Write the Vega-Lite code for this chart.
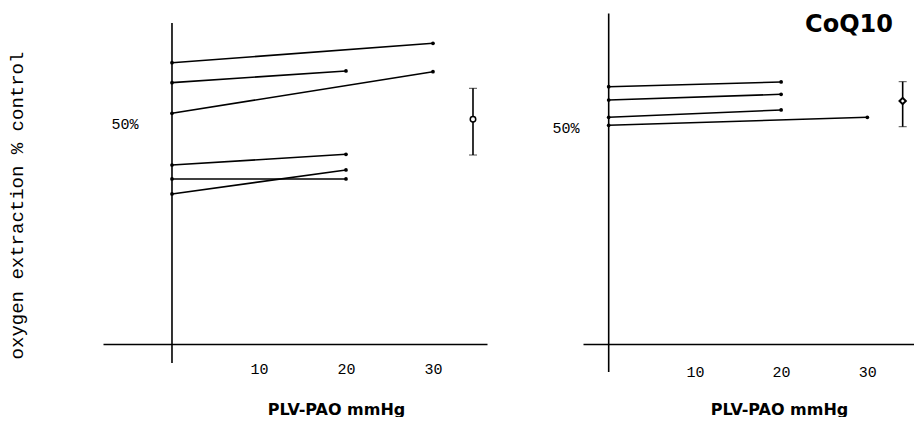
{
  "$schema": "https://vega.github.io/schema/vega-lite/v6.json",
  "background": "white",
  "padding": {"left": 7, "top": 12, "right": 0, "bottom": 0},
  "spacing": 64,
  "config": {"view": {"stroke": null}},
  "datasets": {
    "left": [
      {"series": "L1", "x": 0, "y": 63.93}, {"series": "L1", "x": 30, "y": 68.34},
      {"series": "L2", "x": 0, "y": 59.39}, {"series": "L2", "x": 20, "y": 62.05},
      {"series": "L3", "x": 0, "y": 52.43}, {"series": "L3", "x": 30, "y": 61.89},
      {"series": "L4", "x": 0, "y": 40.68}, {"series": "L4", "x": 20, "y": 43.11},
      {"series": "L5", "x": 0, "y": 37.5}, {"series": "L5", "x": 20, "y": 37.5},
      {"series": "L6", "x": 0, "y": 34.09}, {"series": "L6", "x": 20, "y": 39.55}
    ],
    "leftErr": [{"x": 34.6, "mean": 51.07, "lo": 42.95, "hi": 58.11}],
    "right": [
      {"series": "R1", "x": 0, "y": 59.56}, {"series": "R1", "x": 20, "y": 60.65},
      {"series": "R2", "x": 0, "y": 56.48}, {"series": "R2", "x": 20, "y": 57.8},
      {"series": "R3", "x": 0, "y": 52.48}, {"series": "R3", "x": 20, "y": 54.17},
      {"series": "R4", "x": 0, "y": 50.63}, {"series": "R4", "x": 30, "y": 52.48}
    ],
    "rightErr": [{"x": 34.1, "mean": 56.25, "lo": 50.3, "hi": 60.72}]
  },
  "hconcat": [
    {
      "width": 384,
      "height": 332,
      "layer": [
        {
          "data": {"values": [{}]},
          "mark": {"type": "rule", "color": "black", "strokeWidth": 1.6},
          "encoding": {
            "x": {"datum": 0, "type": "quantitative"},
            "y": {"datum": -4.32, "type": "quantitative", "title": "oxygen extraction % control"},
            "y2": {"datum": 72.95}
          }
        },
        {
          "data": {"name": "left"},
          "mark": {"type": "line", "color": "black", "strokeWidth": 1.6},
          "encoding": {
            "x": {
              "field": "x", "type": "quantitative", "title": "PLV-PAO mmHg",
              "scale": {"domain": [-7.93, 36.21], "nice": false, "zero": false},
              "axis": {
                "values": [10, 20, 30], "ticks": false, "tickSize": 0, "grid": false,
                "domain": true, "domainColor": "black", "domainWidth": 1.5,
                "labelFont": "Liberation Mono", "labelFontSize": 15, "labelColor": "black",
                "labelPadding": 17,
                "titleFont": "DejaVu Sans", "titleFontSize": 16,
                "titleFontWeight": "bold", "titleColor": "black",
                "titleX": 233, "titleY": 70, "titleBaseline": "alphabetic", "titleAlign": "center"
              }
            },
            "y": {
              "field": "y", "type": "quantitative", "title": "oxygen extraction % control",
              "scale": {"domain": [0, 75.45], "nice": false, "zero": false},
              "axis": {
                "values": [50], "labelExpr": "datum.label + '%'", "offset": -69,
                "labelPadding": 34, "ticks": false, "tickSize": 0, "domain": false, "grid": false,
                "labelFont": "Liberation Mono", "labelFontSize": 15, "labelColor": "black",
                "titleFont": "Liberation Mono",
                "titleFontSize": 19, "titleFontWeight": "normal", "titleColor": "black",
                "titleX": -146, "titleY": 193, "titleAngle": 270, "titleBaseline": "bottom", "titleAlign": "center"
              }
            },
            "detail": {"field": "series"}
          }
        },
        {
          "data": {"name": "left"},
          "mark": {"type": "point", "filled": true, "color": "black", "size": 14, "opacity": 1},
          "encoding": {
            "x": {"field": "x", "type": "quantitative", "title": "PLV-PAO mmHg"},
            "y": {"field": "y", "type": "quantitative", "title": "oxygen extraction % control"}
          }
        },
        {
          "data": {"name": "leftErr"},
          "mark": {"type": "errorbar", "color": "black", "ticks": {"size": 8, "strokeWidth": 1.6}, "rule": {"strokeWidth": 1.6}},
          "encoding": {
            "x": {"field": "x", "type": "quantitative", "title": "PLV-PAO mmHg"},
            "y": {"field": "lo", "type": "quantitative", "title": "oxygen extraction % control"},
            "y2": {"field": "hi"}
          }
        },
        {
          "data": {"name": "leftErr"},
          "mark": {"type": "point", "shape": "circle", "fill": "white", "stroke": "black", "strokeWidth": 1.5, "size": 30, "opacity": 1, "fillOpacity": 1},
          "encoding": {
            "x": {"field": "x", "type": "quantitative", "title": "PLV-PAO mmHg"},
            "y": {"field": "mean", "type": "quantitative", "title": "oxygen extraction % control"}
          }
        }
      ]
    },
    {
      "width": 332,
      "height": 332,
      "title": {
        "text": "CoQ10", "anchor": "end", "frame": "group", "font": "DejaVu Sans", "fontSize": 24,
        "fontWeight": "bold", "color": "black", "offset": -19, "dy": 25, "baseline": "alphabetic", "dx": -22
      },
      "layer": [
        {
          "data": {"values": [{}]},
          "mark": {"type": "rule", "color": "black", "strokeWidth": 1.6},
          "encoding": {
            "x": {"datum": 0, "type": "quantitative"},
            "y": {"datum": -6.48, "type": "quantitative", "title": null},
            "y2": {"datum": 76.5}
          }
        },
        {
          "data": {"name": "right"},
          "mark": {"type": "line", "color": "black", "strokeWidth": 1.6},
          "encoding": {
            "x": {
              "field": "x", "type": "quantitative", "title": "PLV-PAO mmHg",
              "scale": {"domain": [-2.98, 35.53], "nice": false, "zero": false},
              "axis": {
                "values": [10, 20, 30], "ticks": false, "tickSize": 0, "grid": false,
                "domain": true, "domainColor": "black", "domainWidth": 1.5,
                "labelFont": "Liberation Mono", "labelFontSize": 15, "labelColor": "black",
                "labelPadding": 20,
                "titleFont": "DejaVu Sans", "titleFontSize": 16,
                "titleFontWeight": "bold", "titleColor": "black",
                "titleX": 196, "titleY": 70, "titleBaseline": "alphabetic", "titleAlign": "center"
              }
            },
            "y": {
              "field": "y", "type": "quantitative", "title": null,
              "scale": {"domain": [0, 76.85], "nice": false, "zero": false},
              "axis": {
                "values": [50], "labelExpr": "datum.label + '%'",
                "labelPadding": 4, "ticks": false, "tickSize": 0, "domain": false, "grid": false,
                "labelFont": "Liberation Mono", "labelFontSize": 15, "labelColor": "black"
              }
            },
            "detail": {"field": "series"}
          }
        },
        {
          "data": {"name": "right"},
          "mark": {"type": "point", "filled": true, "color": "black", "size": 14, "opacity": 1},
          "encoding": {
            "x": {"field": "x", "type": "quantitative", "title": "PLV-PAO mmHg"},
            "y": {"field": "y", "type": "quantitative", "title": null}
          }
        },
        {
          "data": {"name": "rightErr"},
          "mark": {"type": "errorbar", "color": "black", "ticks": {"size": 8, "strokeWidth": 1.6}, "rule": {"strokeWidth": 1.6}},
          "encoding": {
            "x": {"field": "x", "type": "quantitative", "title": "PLV-PAO mmHg"},
            "y": {"field": "lo", "type": "quantitative", "title": null},
            "y2": {"field": "hi"}
          }
        },
        {
          "data": {"name": "rightErr"},
          "mark": {"type": "point", "shape": "diamond", "fill": "white", "stroke": "black", "strokeWidth": 2, "size": 40, "opacity": 1, "fillOpacity": 1},
          "encoding": {
            "x": {"field": "x", "type": "quantitative", "title": "PLV-PAO mmHg"},
            "y": {"field": "mean", "type": "quantitative", "title": null}
          }
        }
      ]
    }
  ]
}
